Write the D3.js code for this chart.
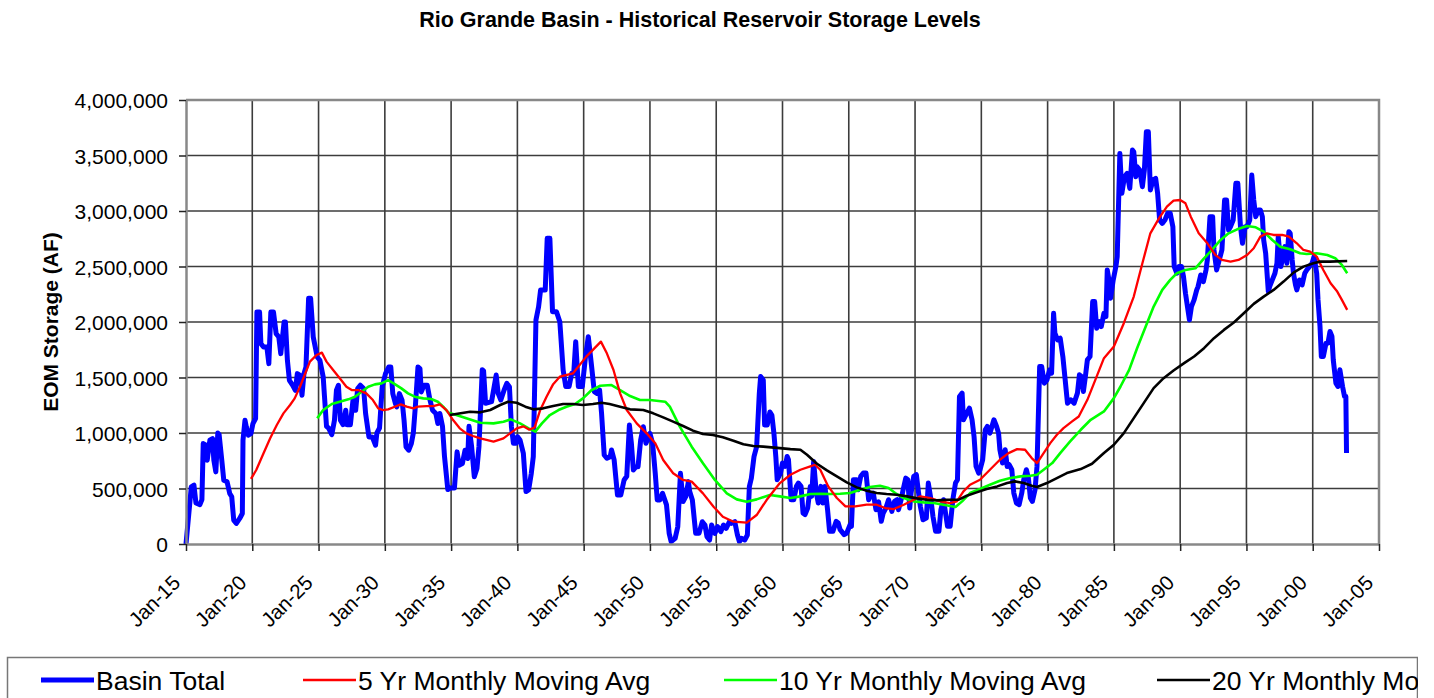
<!DOCTYPE html>
<html lang="en">
<head>
<meta charset="UTF-8">
<title>Rio Grande Basin - Historical Reservoir Storage Levels</title>
<script src="https://cdn.jsdelivr.net/npm/d3@7"></script>
<style>
  html, body { margin: 0; padding: 0; background: #fff; }
  svg { display: block; font-family: "Liberation Sans", Arial, sans-serif; }
</style>
</head>
<body>
<div id="chart"></div>
<script>
// end-of-month storage, [year, thousand acre-feet]
const basinTotal = [
  [1915.0,0],[1915.4,515],[1915.6,530],[1915.75,370],[1916.05,355],[1916.2,400],[1916.3,905],[1916.5,890],[1916.6,755],[1916.8,935],
  [1917.0,950],[1917.1,755],[1917.25,650],[1917.4,1000],[1917.5,985],[1917.7,755],[1917.85,575],[1918.1,560],[1918.3,455],[1918.45,425],
  [1918.6,215],[1918.8,185],[1919.05,230],[1919.25,275],[1919.3,935],[1919.45,1115],[1919.55,1055],[1919.7,980],[1919.9,995],[1920.05,1085],
  [1920.25,1130],[1920.35,2090],[1920.55,2090],[1920.65,1805],[1920.85,1775],[1921.1,1775],[1921.25,1625],[1921.4,2090],[1921.6,2090],[1921.8,1895],
  [1922.0,1865],[1922.15,1715],[1922.4,2000],[1922.5,2000],[1922.65,1655],[1922.8,1475],[1923.05,1430],[1923.25,1385],[1923.4,1535],[1923.6,1520],
  [1923.75,1340],[1923.9,1535],[1924.05,1595],[1924.25,2215],[1924.4,2215],[1924.6,1865],[1924.9,1685],[1925.1,1655],[1925.35,1505],[1925.45,1325],
  [1925.6,1060],[1925.75,1045],[1926.0,985],[1926.2,1115],[1926.35,1385],[1926.5,1430],[1926.65,1115],[1926.85,1075],[1927.05,1205],[1927.15,1075],
  [1927.4,1075],[1927.6,1300],[1927.8,1205],[1927.95,1400],[1928.15,1430],[1928.4,1400],[1928.55,1175],[1928.8,965],[1929.05,965],[1929.3,890],
  [1929.4,1000],[1929.6,1045],[1929.8,1415],[1930.05,1535],[1930.3,1595],[1930.45,1595],[1930.6,1355],[1930.8,1265],[1930.9,1235],[1931.1,1355],
  [1931.3,1295],[1931.45,1115],[1931.6,875],[1931.8,845],[1932.0,905],[1932.15,1000],[1932.3,1235],[1932.5,1595],[1932.65,1580],[1932.75,1370],
  [1932.95,1430],[1933.2,1430],[1933.4,1300],[1933.6,1205],[1933.85,1175],[1934.0,1085],[1934.15,1175],[1934.35,1060],[1934.5,790],[1934.75,490],
  [1934.95,505],[1935.25,505],[1935.45,830],[1935.6,710],[1935.85,725],[1936.05,845],[1936.25,770],[1936.35,1060],[1936.55,875],[1936.75,605],
  [1936.95,680],[1937.1,877],[1937.35,1570],[1937.45,1560],[1937.6,1267],[1938.05,1282],[1938.4,1522],[1938.55,1357],[1938.75,1297],[1939.0,1387],
  [1939.2,1447],[1939.4,1417],[1939.55,1057],[1939.7,907],[1939.9,907],[1940.0,967],[1940.2,937],[1940.45,817],[1940.65,472],[1940.85,487],
  [1941.05,637],[1941.2,787],[1941.4,2018],[1941.6,2138],[1941.75,2288],[1942.1,2288],[1942.25,2754],[1942.45,2754],[1942.65,2093],[1942.95,2093],
  [1943.2,2003],[1943.45,1568],[1943.65,1418],[1943.9,1418],[1944.1,1538],[1944.25,1538],[1944.4,1823],[1944.6,1418],[1944.9,1418],[1945.15,1700],
  [1945.35,1868],[1945.6,1598],[1945.8,1373],[1946.0,1357],[1946.2,1387],[1946.35,1177],[1946.55,802],[1946.75,772],[1947.0,787],[1947.1,847],
  [1947.3,757],[1947.55,442],[1947.8,442],[1948.05,577],[1948.25,610],[1948.45,1072],[1948.6,907],[1948.75,667],[1948.95,697],[1949.1,697],
  [1949.3,937],[1949.5,1057],[1949.7,907],[1950.0,997],[1950.2,907],[1950.4,637],[1950.55,397],[1950.75,397],[1950.95,457],[1951.25,352],
  [1951.45,96],[1951.6,21],[1951.9,51],[1952.1,156],[1952.3,637],[1952.5,382],[1952.7,427],[1952.9,562],[1953.0,472],[1953.2,397],
  [1953.45,96],[1953.7,96],[1953.95,201],[1954.15,171],[1954.3,66],[1954.5,36],[1954.65,171],[1954.9,96],[1955.1,156],[1955.35,111],
  [1955.55,171],[1955.75,141],[1956.0,201],[1956.15,186],[1956.4,201],[1956.6,81],[1956.75,21],[1956.9,51],[1957.15,36],[1957.35,81],
  [1957.5,517],[1957.65,592],[1957.85,787],[1958.05,877],[1958.25,1357],[1958.35,1508],[1958.55,1478],[1958.65,1072],[1958.85,1072],[1959.05,1190],
  [1959.2,1160],[1959.35,1000],[1959.5,780],[1959.6,579],[1959.85,639],[1960.0,729],[1960.2,699],[1960.35,789],[1960.45,759],[1960.65,399],
  [1960.85,399],[1961.05,519],[1961.2,549],[1961.4,519],[1961.55,279],[1961.7,264],[1961.9,324],[1962.1,519],[1962.2,429],[1962.35,744],
  [1962.55,459],[1962.7,369],[1962.9,519],[1963.05,369],[1963.2,519],[1963.4,309],[1963.55,114],[1963.8,114],[1964.05,204],[1964.2,189],
  [1964.35,129],[1964.65,84],[1964.85,99],[1965.1,174],[1965.2,159],[1965.35,579],[1965.6,579],[1965.7,489],[1965.9,609],[1966.1,639],
  [1966.3,639],[1966.5,399],[1966.6,429],[1966.85,459],[1967.05,309],[1967.25,380],[1967.45,204],[1967.6,279],[1967.8,324],[1968.0,399],
  [1968.25,294],[1968.45,384],[1968.65,399],[1968.75,309],[1968.95,399],[1969.1,489],[1969.3,594],[1969.45,579],[1969.6,324],[1969.7,459],
  [1969.9,609],[1970.1,624],[1970.25,474],[1970.4,339],[1970.6,219],[1970.85,234],[1971.0,549],[1971.2,399],[1971.35,249],[1971.55,114],
  [1971.8,114],[1971.95,309],[1972.15,399],[1972.3,279],[1972.45,159],[1972.65,159],[1972.85,399],[1973.05,549],[1973.2,579],[1973.35,1329],
  [1973.55,1359],[1973.65,1119],[1973.9,1179],[1974.1,1224],[1974.3,1119],[1974.45,969],[1974.6,699],[1974.8,639],[1974.9,669],[1975.1,759],
  [1975.3,1029],[1975.45,1059],[1975.65,999],[1975.8,1059],[1975.95,1119],[1976.15,1059],[1976.3,999],[1976.4,849],[1976.6,729],[1976.8,849],
  [1976.95,699],[1977.1,714],[1977.3,669],[1977.45,459],[1977.65,369],[1977.85,354],[1978.05,459],[1978.2,579],[1978.4,669],[1978.55,594],
  [1978.7,414],[1978.85,384],[1979.05,489],[1979.2,699],[1979.4,1599],[1979.55,1599],[1979.75,1449],[1979.95,1479],[1980.15,1569],[1980.3,1540],
  [1980.45,2079],[1980.55,1899],[1980.75,1839],[1980.95,1854],[1981.15,1689],[1981.3,1509],[1981.5,1269],[1981.75,1299],[1982.0,1269],[1982.25,1359],
  [1982.4,1524],[1982.55,1509],[1982.7,1374],[1982.85,1509],[1983.0,1659],[1983.2,1689],[1983.4,2184],[1983.55,2184],[1983.7,1944],[1983.9,2004],
  [1984.05,1959],[1984.25,2079],[1984.4,2049],[1984.5,2469],[1984.65,2364],[1984.75,2214],[1984.95,2379],[1985.15,2499],[1985.25,2589],[1985.45,3519],
  [1985.6,3159],[1985.8,3309],[1986.0,3339],[1986.2,3204],[1986.4,3549],[1986.5,3534],[1986.65,3309],[1986.75,3399],[1986.95,3369],[1987.15,3219],
  [1987.3,3369],[1987.45,3714],[1987.6,3714],[1987.75,3189],[1987.95,3279],[1988.15,3294],[1988.3,3159],[1988.45,2919],[1988.65,2889],[1988.85,2919],
  [1989.05,2979],[1989.25,2979],[1989.45,2859],[1989.55,2499],[1989.75,2439],[1989.9,2499],[1990.1,2499],[1990.25,2409],[1990.4,2259],[1990.55,2139],
  [1990.7,2019],[1990.85,2139],[1991.05,2199],[1991.25,2289],[1991.35,2319],[1991.55,2424],[1991.75,2364],[1991.95,2469],[1992.05,2559],[1992.25,2949],
  [1992.45,2949],[1992.55,2649],[1992.75,2469],[1992.95,2559],[1993.15,2649],[1993.35,3099],[1993.5,3099],[1993.65,2829],[1993.8,2859],[1994.0,2919],
  [1994.2,3249],[1994.35,3249],[1994.55,2859],[1994.7,2709],[1994.9,2859],[1995.05,2859],[1995.25,2919],[1995.4,3324],[1995.55,3099],[1995.7,2949],
  [1995.9,3009],[1996.05,3009],[1996.2,2949],[1996.3,2739],[1996.45,2619],[1996.65,2274],[1996.75,2319],[1996.95,2379],[1997.15,2439],[1997.3,2529],
  [1997.4,2769],[1997.6,2499],[1997.75,2589],[1997.9,2679],[1998.05,2529],[1998.2,2814],[1998.3,2799],[1998.45,2559],[1998.55,2439],[1998.7,2334],
  [1998.8,2289],[1999.0,2379],[1999.2,2334],[1999.4,2439],[1999.55,2469],[1999.75,2499],[1999.95,2529],[2000.1,2589],[2000.3,2439],[2000.4,2199],
  [2000.55,1959],[2000.65,1689],[2000.8,1689],[2001.0,1809],[2001.15,1809],[2001.3,1914],[2001.45,1869],[2001.55,1659],[2001.75,1449],[2001.9,1419],
  [2002.05,1569],[2002.25,1419],[2002.4,1329],[2002.5,1329],[2002.55,819]
];

const avg5yr = [
  [1919.9,586],[1920.3,667],[1920.85,817],[1921.35,952],[1921.85,1072],[1922.35,1177],[1922.85,1252],[1923.2,1312],[1923.6,1417],[1924.0,1538],
  [1924.35,1643],[1924.85,1703],[1925.25,1724],[1925.6,1643],[1926.1,1568],[1926.6,1493],[1927.1,1417],[1927.5,1387],[1928.0,1387],[1928.6,1357],
  [1929.1,1297],[1929.5,1222],[1929.85,1207],[1930.25,1213],[1930.75,1237],[1931.2,1258],[1931.65,1237],[1932.15,1222],[1932.5,1237],[1933.15,1243],
  [1933.65,1243],[1934.15,1258],[1934.65,1207],[1935.15,1117],[1935.65,1042],[1936.15,997],[1936.65,973],[1937.2,952],[1938.2,922],[1938.95,952],
  [1939.45,997],[1939.95,1042],[1940.45,1060],[1940.9,1030],[1941.3,1050],[1941.7,1200],[1942.2,1327],[1942.7,1440],[1943.2,1507],[1944.2,1538],
  [1945.2,1688],[1946.3,1823],[1946.75,1718],[1947.25,1568],[1947.75,1357],[1948.25,1207],[1949.0,1087],[1949.75,997],[1950.4,907],[1951.0,757],
  [1951.75,637],[1952.5,577],[1953.15,562],[1954.0,456],[1954.8,336],[1955.5,246],[1956.3,201],[1957.3,192],[1958.05,261],[1958.8,396],
  [1959.8,549],[1960.6,624],[1961.35,669],[1962.1,699],[1962.45,714],[1962.85,669],[1963.45,519],[1964.1,414],[1964.75,339],[1965.5,339],
  [1966.35,354],[1967.1,354],[1967.75,324],[1968.4,315],[1969.15,354],[1969.9,399],[1970.4,429],[1971.15,414],[1971.9,384],[1972.65,369],
  [1973.15,384],[1973.65,474],[1974.15,534],[1974.9,579],[1975.65,669],[1976.4,759],[1977.05,819],[1977.7,855],[1978.3,849],[1978.8,774],
  [1979.2,729],[1979.7,819],[1980.2,909],[1980.7,984],[1981.2,1044],[1981.85,1104],[1982.35,1149],[1983.0,1299],[1983.6,1479],[1984.25,1674],
  [1985.0,1779],[1985.75,1989],[1986.5,2229],[1987.15,2529],[1987.75,2799],[1988.4,2934],[1989.0,3039],[1989.5,3093],[1990.0,3099],[1990.4,3069],
  [1990.8,2949],[1991.4,2799],[1992.05,2709],[1992.65,2604],[1993.15,2559],[1993.8,2544],[1994.4,2559],[1995.05,2604],[1995.55,2664],[1996.05,2769],
  [1996.55,2799],[1997.05,2784],[1997.7,2784],[1998.2,2769],[1998.8,2709],[1999.3,2649],[1999.8,2634],[2000.3,2589],[2000.8,2469],[2001.35,2349],
  [2001.85,2274],[2002.2,2199],[2002.6,2109]
];

const avg10yr = [
  [1924.9,1132],[1925.35,1207],[1926.0,1261],[1926.6,1282],[1927.25,1303],[1927.75,1327],[1928.25,1372],[1928.75,1417],[1929.25,1438],[1929.75,1447],
  [1930.25,1477],[1930.75,1441],[1931.25,1402],[1931.75,1357],[1932.25,1327],[1932.9,1312],[1933.5,1306],[1934.0,1282],[1934.4,1237],[1934.8,1183],
  [1935.4,1162],[1936.15,1132],[1937.2,1093],[1938.2,1087],[1938.95,1102],[1939.5,1123],[1940.2,1087],[1940.85,1042],[1941.35,1012],[1941.85,1087],
  [1942.45,1162],[1943.1,1207],[1943.7,1237],[1944.35,1261],[1944.95,1312],[1945.6,1387],[1946.25,1426],[1947.1,1432],[1947.75,1387],[1948.5,1333],
  [1949.25,1297],[1950.0,1297],[1951.15,1282],[1951.5,1237],[1952.25,1057],[1953.15,877],[1954.0,727],[1954.9,577],[1955.8,456],[1956.55,402],
  [1957.3,381],[1958.05,402],[1959.05,441],[1959.8,429],[1960.6,414],[1961.35,429],[1962.1,450],[1962.85,453],[1963.6,450],[1964.35,453],
  [1965.1,459],[1965.85,489],[1966.6,513],[1967.35,525],[1968.0,504],[1968.5,459],[1969.15,414],[1969.9,384],[1970.65,375],[1971.4,369],
  [1972.15,354],[1973.05,333],[1973.55,384],[1974.15,459],[1974.9,495],[1975.65,534],[1976.4,570],[1977.2,594],[1977.95,609],[1978.7,615],
  [1979.2,624],[1979.7,669],[1980.35,729],[1980.95,819],[1981.7,924],[1982.5,1029],[1983.25,1119],[1984.25,1194],[1985.0,1314],[1985.5,1419],
  [1986.15,1569],[1986.75,1764],[1987.4,1959],[1988.0,2139],[1988.65,2289],[1989.25,2379],[1989.75,2439],[1990.4,2469],[1991.15,2484],[1991.8,2574],
  [1992.4,2649],[1993.05,2739],[1993.65,2799],[1994.3,2835],[1995.05,2865],[1995.7,2853],[1996.3,2814],[1996.95,2739],[1997.55,2679],[1998.3,2655],
  [1999.05,2619],[1999.55,2613],[2000.3,2619],[2001.1,2604],[2001.7,2574],[2002.2,2514],[2002.6,2439]
];

const avg20yr = [
  [1934.9,1162],[1936.43,1192],[1937.2,1186],[1937.95,1207],[1938.7,1252],[1939.3,1282],[1939.95,1273],[1940.6,1237],[1941.2,1213],[1941.95,1222],
  [1942.7,1243],[1943.45,1261],[1944.2,1261],[1944.95,1252],[1945.7,1261],[1946.35,1273],[1946.95,1261],[1947.75,1237],[1948.5,1213],[1949.5,1207],
  [1950.25,1177],[1951.0,1141],[1951.75,1102],[1952.5,1063],[1953.25,1021],[1954.0,991],[1954.75,982],[1955.5,961],[1956.3,931],[1957.05,898],
  [1957.8,883],[1958.55,877],[1959.8,864],[1960.6,855],[1961.35,849],[1961.85,804],[1962.6,723],[1963.35,663],[1964.1,609],[1964.85,555],
  [1965.6,510],[1966.35,480],[1967.1,459],[1967.85,450],[1968.6,444],[1969.4,429],[1970.15,411],[1970.9,399],[1971.65,393],[1972.4,399],
  [1973.3,399],[1973.9,435],[1974.65,465],[1975.4,495],[1976.2,519],[1976.95,549],[1977.55,564],[1978.2,549],[1978.8,525],[1979.2,513],
  [1979.95,549],[1980.7,594],[1981.45,639],[1982.5,675],[1983.35,723],[1984.25,819],[1985.0,894],[1985.75,999],[1986.5,1134],[1987.25,1269],
  [1988.0,1404],[1988.75,1494],[1989.5,1563],[1990.3,1629],[1991.05,1689],[1991.8,1764],[1992.55,1854],[1993.3,1929],[1994.05,1995],[1994.8,2079],
  [1995.55,2163],[1996.3,2229],[1997.05,2289],[1997.8,2364],[1998.55,2445],[1999.3,2499],[2000.05,2529],[2000.55,2544],[2001.3,2544],[2002.6,2550]
];

const seriesNames = ["Basin Total", "5 Yr Monthly Moving Avg", "10 Yr Monthly Moving Avg", "20 Yr Monthly Moving Avg"];
const yTicks = [0, 500000, 1000000, 1500000, 2000000, 2500000, 3000000, 3500000, 4000000];
const xTickYears = [1915, 1920, 1925, 1930, 1935, 1940, 1945, 1950, 1955, 1960, 1965, 1970, 1975, 1980, 1985, 1990, 1995, 2000, 2005];
const xTickLabels = ["Jan-15", "Jan-20", "Jan-25", "Jan-30", "Jan-35", "Jan-40", "Jan-45", "Jan-50", "Jan-55", "Jan-60",
                     "Jan-65", "Jan-70", "Jan-75", "Jan-80", "Jan-85", "Jan-90", "Jan-95", "Jan-00", "Jan-05"];

const W = 1434, H = 698;
const plot = { left: 186, right: 1379, top: 100, bottom: 544 };

const svg = d3.select("#chart").append("svg")
  .attr("width", W).attr("height", H);

const x = d3.scaleLinear().domain([1915, 2005]).range([plot.left, plot.right]);
const y = d3.scaleLinear().domain([0, 4000000]).range([plot.bottom, plot.top]);

// title
svg.append("text")
  .attr("x", 700).attr("y", 27)
  .attr("text-anchor", "middle")
  .style("font-weight", "bold").style("font-size", "21.5px")
  .text("Rio Grande Basin - Historical Reservoir Storage Levels");

// grid
const grid = svg.append("g").attr("stroke", "#3c3c3c").attr("stroke-width", 1.6);
grid.selectAll("line.h").data(yTicks.slice(1, -1)).join("line")
  .attr("class", "h")
  .attr("x1", plot.left).attr("x2", plot.right)
  .attr("y1", d => y(d)).attr("y2", d => y(d));
grid.selectAll("line.v").data(xTickYears.slice(1, -1)).join("line")
  .attr("class", "v")
  .attr("y1", plot.top).attr("y2", plot.bottom)
  .attr("x1", d => x(d)).attr("x2", d => x(d));

// plot frame (top and right)
svg.append("path")
  .attr("d", `M${plot.left},${plot.top}H${plot.right}V${plot.bottom}`)
  .attr("fill", "none").attr("stroke", "#888").attr("stroke-width", 2.5);

// lines
const line = d3.line().x(d => x(d[0])).y(d => y(d[1] * 1000));
const lineStyles = [
  { data: basinTotal, color: "#0000ff", width: 5 },
  { data: avg10yr, color: "#00ff00", width: 2.6 },
  { data: avg5yr, color: "#ff0000", width: 2.3 },
  { data: avg20yr, color: "#000000", width: 2.6 }
];
lineStyles.forEach(s => {
  svg.append("path")
    .datum(s.data)
    .attr("fill", "none")
    .attr("stroke", s.color)
    .attr("stroke-width", s.width)
    .attr("stroke-linejoin", "round")
    .attr("d", line);
});

// y axis
const yAxis = svg.append("g")
  .attr("transform", `translate(${plot.left},0)`)
  .call(d3.axisLeft(y).tickValues(yTicks).tickFormat(d3.format(",")).tickSize(7).tickSizeOuter(0).tickPadding(11));
yAxis.select(".domain").attr("stroke", "#888").attr("stroke-width", 2.5);
yAxis.selectAll(".tick line").attr("stroke", "#222").attr("stroke-width", 1.5);
yAxis.selectAll(".tick text").attr("fill", "#000").style("font-size", "21px")
  .attr("dy", "0.36em").style("font-family", "'Liberation Sans', Arial, sans-serif");

// x axis
const xAxis = svg.append("g")
  .attr("transform", `translate(0,${plot.bottom})`)
  .call(d3.axisBottom(x).tickValues(xTickYears).tickFormat((d, i) => xTickLabels[i]).tickSize(7).tickSizeOuter(0));
xAxis.select(".domain").attr("stroke", "#888").attr("stroke-width", 2.5);
xAxis.selectAll(".tick line").attr("stroke", "#222").attr("stroke-width", 1.5);
xAxis.selectAll(".tick text")
  .attr("fill", "#000")
  .attr("x", 0).attr("y", 0).attr("dy", 0)
  .attr("text-anchor", "end")
  .attr("transform", "translate(-5,40) rotate(-45)")
  .style("font-size", "20.5px")
  .style("font-family", "'Liberation Sans', Arial, sans-serif");

// y axis title
svg.append("text")
  .attr("transform", `translate(58,${(plot.top + plot.bottom) / 2}) rotate(-90)`)
  .attr("text-anchor", "middle")
  .style("font-weight", "bold").style("font-size", "21px")
  .text("EOM Storage (AF)");

// legend (box runs off the bottom/right of the picture, as in the original)
svg.append("clipPath").attr("id", "legclip")
  .append("rect").attr("x", 0).attr("y", 640).attr("width", 1418).attr("height", 60);
const legend = svg.append("g").attr("clip-path", "url(#legclip)");
legend.append("rect")
  .attr("x", 7.5).attr("y", 657.5).attr("width", 1410).attr("height", 80)
  .attr("fill", "#fff").attr("stroke", "#777").attr("stroke-width", 1.5);

const legendX = [41, 303, 724, 1157];
const legendColors = ["#0000ff", "#ff0000", "#00ff00", "#000000"];
const legendWidths = [5, 2.5, 2.5, 2.5];
seriesNames.forEach((name, i) => {
  const g = legend.append("g").attr("transform", `translate(${legendX[i]},0)`);
  g.append("line")
    .attr("x1", 0).attr("x2", 53).attr("y1", 680).attr("y2", 680)
    .attr("stroke", legendColors[i]).attr("stroke-width", legendWidths[i]);
  g.append("text")
    .attr("x", 55).attr("y", 690)
    .style("font-size", "26.5px")
    .text(name);
});
</script>
</body>
</html>
